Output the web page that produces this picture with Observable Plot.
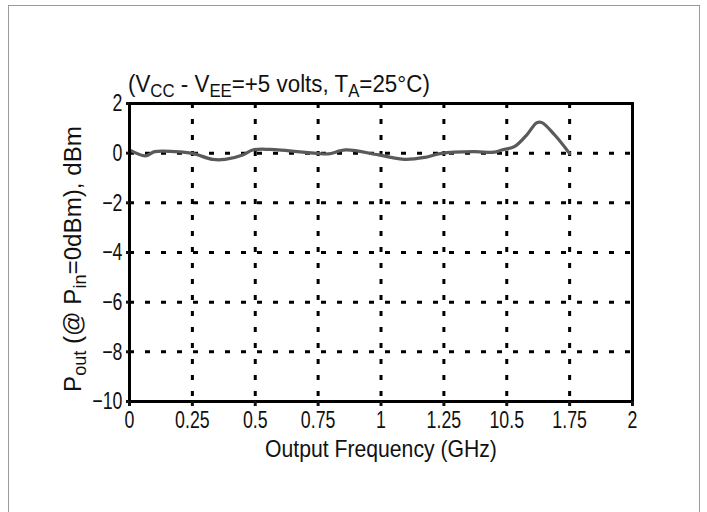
<!DOCTYPE html>
<html>
<head>
<meta charset="utf-8">
<script src="https://cdn.jsdelivr.net/npm/d3@7"></script>
<script src="https://cdn.jsdelivr.net/npm/@observablehq/plot@0.6"></script>
<style>
  html, body { margin: 0; padding: 0; background: #fff; }
  #wrap { position: relative; width: 707px; height: 512px; overflow: hidden; }
  #border { position: absolute; left: 8px; top: 5px; width: 692px; height: 600px; border: 1px solid #9a9a9a; box-sizing: border-box; }
  #chart { position: absolute; left: 0; top: 0; }
</style>
</head>
<body>
<div id="wrap"><div id="border"></div><div id="chart"></div></div>
<script>
const FONT = '"Liberation Sans", Arial, sans-serif';

// Series (GHz, dBm)
const freq = [0, 0.063, 0.10, 0.18, 0.25, 0.33, 0.38, 0.45, 0.49, 0.56, 0.745, 0.79, 0.86, 0.99, 1.095, 1.175, 1.24, 1.37, 1.45, 1.48, 1.53, 1.58, 1.62, 1.64, 1.69, 1.75];
const pout = [0.13, -0.11, 0.06, 0.06, -0.01, -0.25, -0.25, -0.07, 0.13, 0.15, -0.01, -0.03, 0.13, -0.07, -0.25, -0.17, -0.01, 0.06, 0.04, 0.13, 0.26, 0.74, 1.23, 1.23, 0.74, -0.01];

const xTicks = [0, 0.25, 0.5, 0.75, 1, 1.25, 1.5, 1.75, 2];
const xTickLabels = ["0", "0.25", "0.5", "0.75", "1", "1.25", "10.5", "1.75", "2"];
const yTicks = [2, 0, -2, -4, -6, -8, -10];
const yTickLabels = ["2", "0", "\u22122", "\u22124", "\u22126", "\u22128", "\u221210"];
const xGrid = [0.25, 0.5, 0.75, 1, 1.25, 1.5, 1.75];
const yGrid = [0, -2, -4, -6, -8];

const xLab = new Map(xTicks.map((t, i) => [t, xTickLabels[i]]));
const yLab = new Map(yTicks.map((t, i) => [t, yTickLabels[i]]));
const data = freq.map((f, i) => ({f, p: pout[i]}));

const plot = Plot.plot({
  width: 707,
  height: 512,
  marginTop: 103,
  marginBottom: 111,
  marginLeft: 129,
  marginRight: 75,
  style: {fontFamily: FONT, fontSize: "24px", color: "#111", background: "transparent"},
  x: {domain: [0, 2]},
  y: {domain: [-10, 2]},
  marks: [
    Plot.ruleX(xGrid, {stroke: "#000", strokeWidth: 3, strokeDasharray: "5,11"}),
    Plot.ruleY(yGrid, {stroke: "#000", strokeWidth: 3, strokeDasharray: "5,11"}),
    Plot.line(data, {x: "f", y: "p", stroke: "#5a5a5a", strokeWidth: 3.2, curve: "catmull-rom"}),
    Plot.frame({stroke: "#000", strokeWidth: 3}),
    Plot.axisX({ticks: xTicks, tickFormat: d => xLab.get(d), tickSize: 5, tickPadding: 4, strokeWidth: 3, label: null, fontSize: 24}),
    Plot.axisY({ticks: yTicks, tickFormat: d => yLab.get(d), tickSize: 3, tickPadding: 4, strokeWidth: 3, label: null, fontSize: 24})
  ]
});
document.getElementById("chart").appendChild(plot);

const svg = d3.select(plot);
// condense tick labels horizontally (reference uses a condensed face)
svg.selectAll('g[aria-label="x-axis tick label"] text, g[aria-label="y-axis tick label"] text')
  .attr("transform", function() { return (this.getAttribute("transform") || "") + " scale(0.74,1)"; });

function fitWidth(sel, target) {
  const w = sel.node().getComputedTextLength();
  return target / w;
}

// Title with subscripts
const t = svg.append("text").attr("text-anchor", "start")
  .attr("font-family", FONT).attr("font-size", 24).attr("fill", "#111");
t.append("tspan").text("(V");
t.append("tspan").attr("dy", 5).attr("font-size", 18).text("CC");
t.append("tspan").attr("dy", -5).text(" - V");
t.append("tspan").attr("dy", 5).attr("font-size", 18).text("EE");
t.append("tspan").attr("dy", -5).text("=+5 volts, T");
t.append("tspan").attr("dy", 5).attr("font-size", 18).text("A");
t.append("tspan").attr("dy", -5).text("=25\u00B0C)");
t.attr("transform", `translate(128,92) scale(${fitWidth(t, 302)},1)`);

// X axis label
const xl = svg.append("text").attr("text-anchor", "middle")
  .attr("font-family", FONT).attr("font-size", 24).attr("fill", "#111")
  .text("Output Frequency (GHz)");
xl.attr("transform", `translate(381,457) scale(${fitWidth(xl, 232)},1)`);

// Y axis label with subscripts
const yl = svg.append("text")
  .attr("text-anchor", "middle").attr("font-family", FONT).attr("font-size", 24).attr("fill", "#111");
yl.append("tspan").text("P");
yl.append("tspan").attr("dy", 5).attr("font-size", 18).text("out");
yl.append("tspan").attr("dy", -5).text(" (@ P");
yl.append("tspan").attr("dy", 5).attr("font-size", 18).text("in");
yl.append("tspan").attr("dy", -5).text("=0dBm), dBm");
yl.attr("transform", `translate(81,259) rotate(-90) scale(${fitWidth(yl, 266)},1)`);
</script>
</body>
</html>
